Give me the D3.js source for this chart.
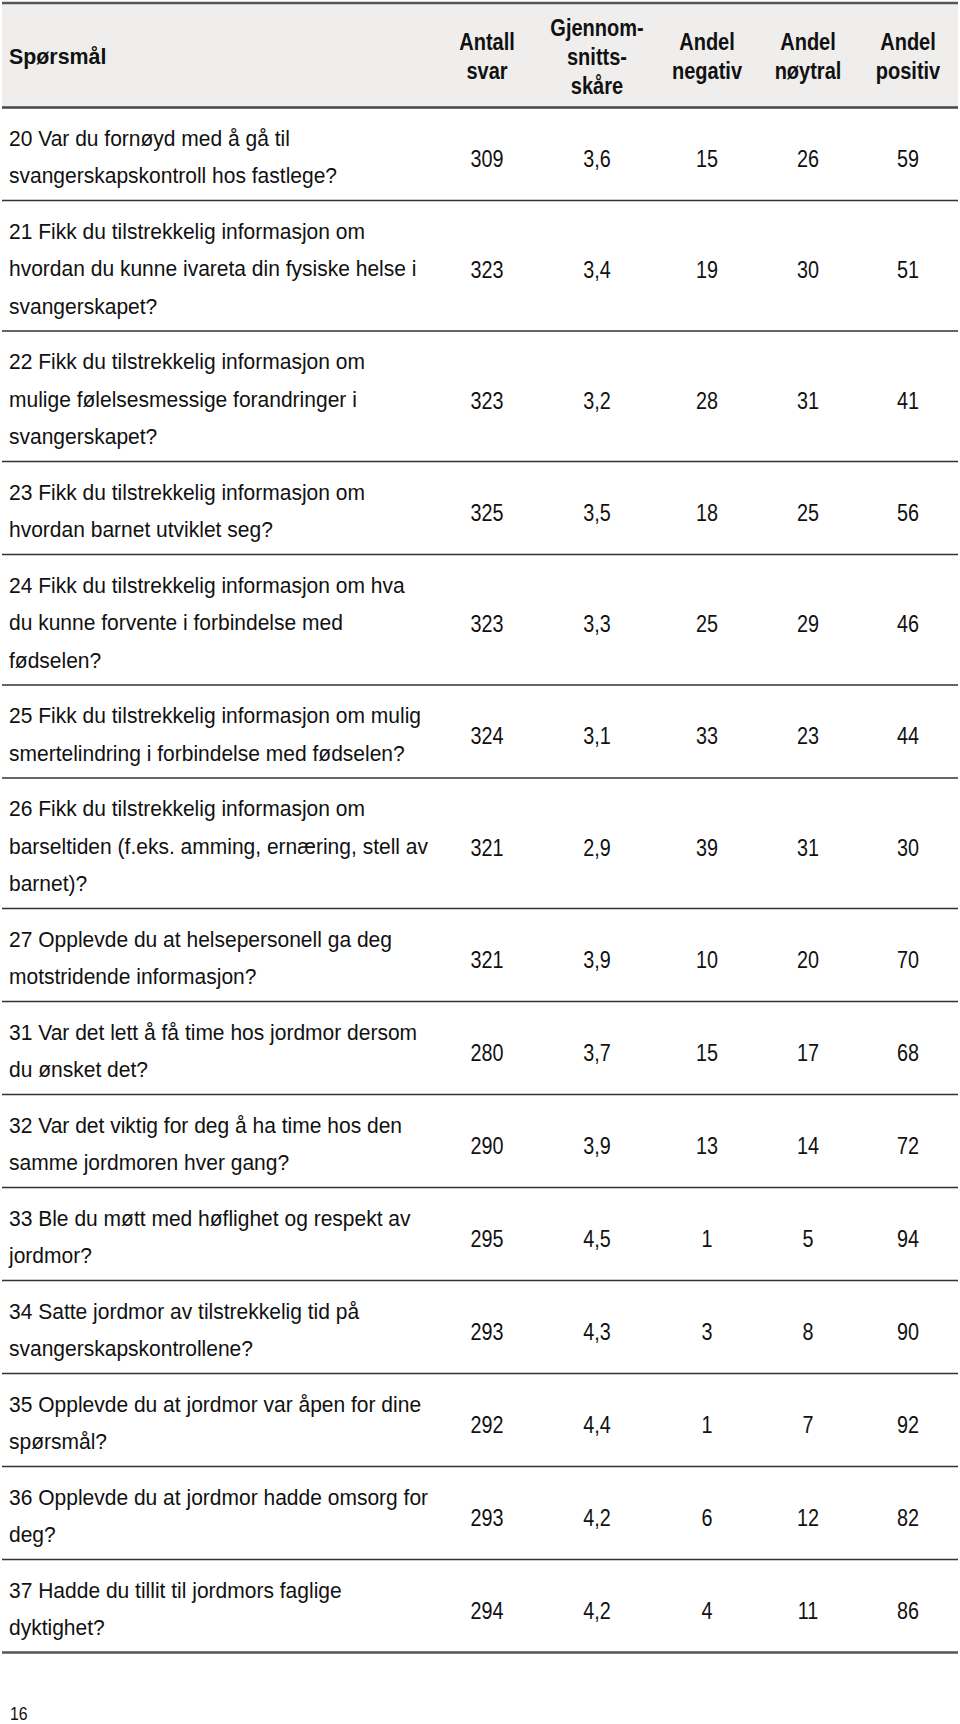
<!DOCTYPE html>
<html>
<head>
<meta charset="utf-8">
<script src="https://cdn.jsdelivr.net/npm/d3@7/dist/d3.min.js"></script>
<style>
	body { margin: 0; background: #fff; }
	svg { display: block; font-family: "Liberation Sans", Arial, Helvetica, sans-serif; }
</style>
</head>
<body>
<script>
var headers = [
	['Antall', 'svar'],
	['Gjennom-', 'snitts-', 'skåre'],
	['Andel', 'negativ'],
	['Andel', 'nøytral'],
	['Andel', 'positiv']
];

var questions = [
	['20 Var du fornøyd med å gå til', 'svangerskapskontroll hos fastlege?'],
	['21 Fikk du tilstrekkelig informasjon om', 'hvordan du kunne ivareta din fysiske helse i', 'svangerskapet?'],
	['22 Fikk du tilstrekkelig informasjon om', 'mulige følelsesmessige forandringer i', 'svangerskapet?'],
	['23 Fikk du tilstrekkelig informasjon om', 'hvordan barnet utviklet seg?'],
	['24 Fikk du tilstrekkelig informasjon om hva', 'du kunne forvente i forbindelse med', 'fødselen?'],
	['25 Fikk du tilstrekkelig informasjon om mulig', 'smertelindring i forbindelse med fødselen?'],
	['26 Fikk du tilstrekkelig informasjon om', 'barseltiden (f.eks. amming, ernæring, stell av', 'barnet)?'],
	['27 Opplevde du at helsepersonell ga deg', 'motstridende informasjon?'],
	['31 Var det lett å få time hos jordmor dersom', 'du ønsket det?'],
	['32 Var det viktig for deg å ha time hos den', 'samme jordmoren hver gang?'],
	['33 Ble du møtt med høflighet og respekt av', 'jordmor?'],
	['34 Satte jordmor av tilstrekkelig tid på', 'svangerskapskontrollene?'],
	['35 Opplevde du at jordmor var åpen for dine', 'spørsmål?'],
	['36 Opplevde du at jordmor hadde omsorg for', 'deg?'],
	['37 Hadde du tillit til jordmors faglige', 'dyktighet?']
];

var antall = [309, 323, 323, 325, 323, 324, 321, 321, 280, 290, 295, 293, 292, 293, 294];
var snitt = [3.6, 3.4, 3.2, 3.5, 3.3, 3.1, 2.9, 3.9, 3.7, 3.9, 4.5, 4.3, 4.4, 4.2, 4.2];
var negativ = [15, 19, 28, 18, 25, 33, 39, 10, 15, 13, 1, 3, 1, 6, 4];
var noytral = [26, 30, 31, 25, 29, 23, 31, 20, 17, 14, 5, 8, 7, 12, 11];
var positiv = [59, 51, 41, 56, 46, 44, 30, 70, 68, 72, 94, 90, 92, 82, 86];

var pageNumber = '16';

var width = 960,
	height = 1724,
	headTop = 3,
	headBottom = 107.5,
	lineStep = 37.5,
	rowPad = 18;

var no = d3.formatLocale({ decimal: ',', thousands: ' ', grouping: [3], currency: ['', ' kr'] });
var fmtSnitt = no.format('.1f');

var cols = [0, 1, 2, 3, 4];
var x = d3.scaleOrdinal()
	.domain(cols)
	.range([487, 597, 707, 808, 908]);

// row tops from cumulative line counts
var lineCounts = questions.map(function(q) { return q.length; });
var cum = [0].concat(Array.from(d3.cumsum(lineCounts)));
var rowTop = function(i) {
	return headBottom + rowPad * i + lineStep * cum[i];
};
var rowBottom = function(i) { return rowTop(i + 1); };

var rows = questions.map(function(q, i) {
	return {
		lines: q,
		values: [String(antall[i]), fmtSnitt(snitt[i]), String(negativ[i]), String(noytral[i]), String(positiv[i])],
		top: rowTop(i),
		bottom: rowBottom(i)
	};
});

var svg = d3.select('body')
	.append('svg')
	.attr('width', width)
	.attr('height', height);

// header
svg.append('rect')
	.attr('x', 2)
	.attr('y', headTop)
	.attr('width', width - 4)
	.attr('height', headBottom - headTop)
	.attr('fill', '#efeeed');

svg.append('text')
	.attr('x', 0)
	.attr('y', 0)
	.attr('transform', 'translate(9,64) scale(0.93,1)')
	.attr('font-size', 23)
	.attr('font-weight', 'bold')
	.attr('fill', '#111')
	.text('Spørsmål');

var headMid = 65;
var heads = svg.selectAll('g.head')
	.data(headers)
	.enter()
	.append('g')
	.attr('class', 'head')
	.attr('transform', function(d, i) { return 'translate(' + x(i) + ',0) scale(0.87,1)'; });

heads.selectAll('text')
	.data(function(d) {
		return d.map(function(t, j) { return { t: t, y: headMid + (j - (d.length - 1) / 2) * 29 }; });
	})
	.enter()
	.append('text')
	.attr('x', 0)
	.attr('y', function(d) { return d.y; })
	.attr('text-anchor', 'middle')
	.attr('font-size', 23)
	.attr('font-weight', 'bold')
	.attr('fill', '#111')
	.text(function(d) { return d.t; });

// rows
var g = svg.selectAll('g.row')
	.data(rows)
	.enter()
	.append('g')
	.attr('class', 'row');

g.selectAll('text.q')
	.data(function(d) {
		return d.lines.map(function(t, j) { return { t: t, y: d.top + 38 + j * lineStep }; });
	})
	.enter()
	.append('text')
	.attr('class', 'q')
	.attr('transform', function(d) { return 'translate(9,' + d.y + ') scale(0.955,1)'; })
	.attr('font-size', 22)
	.attr('fill', '#111')
	.text(function(d) { return d.t; });

g.selectAll('g.v')
	.data(function(d) {
		return d.values.map(function(v, j) { return { v: v, col: j, y: (d.top + d.bottom) / 2 + 12.5 }; });
	})
	.enter()
	.append('g')
	.attr('class', 'v')
	.attr('transform', function(d) { return 'translate(' + x(d.col) + ',' + d.y + ') scale(0.86,1)'; })
	.append('text')
	.attr('text-anchor', 'middle')
	.attr('font-size', 23)
	.attr('fill', '#111')
	.text(function(d) { return d.v; });

// rules
svg.append('line')
	.attr('x1', 2).attr('x2', width - 2)
	.attr('y1', headTop).attr('y2', headTop)
	.attr('stroke', '#555')
	.attr('stroke-width', 2.5);

svg.append('line')
	.attr('x1', 2).attr('x2', width - 2)
	.attr('y1', headBottom).attr('y2', headBottom)
	.attr('stroke', '#444')
	.attr('stroke-width', 2.5);

svg.selectAll('line.sep')
	.data(rows)
	.enter()
	.append('line')
	.attr('class', 'sep')
	.attr('x1', 2).attr('x2', width - 2)
	.attr('y1', function(d) { return d.bottom; })
	.attr('y2', function(d) { return d.bottom; })
	.attr('stroke', function(d, i) { return i === rows.length - 1 ? '#555' : '#333'; })
	.attr('stroke-width', function(d, i) { return i === rows.length - 1 ? 2.5 : 1.6; });

svg.append('text')
	.attr('x', 0)
	.attr('y', 0)
	.attr('font-size', 19)
	.attr('fill', '#111')
	.attr('transform', 'translate(10,1720) scale(0.83,1)')
	.text(pageNumber);
</script>
</body>
</html>
